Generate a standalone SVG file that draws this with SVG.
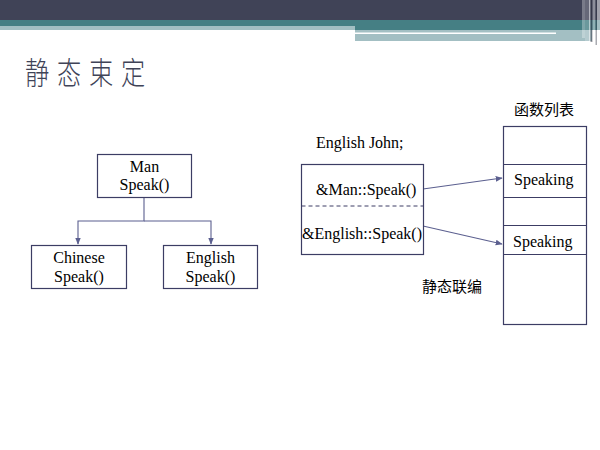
<svg xmlns="http://www.w3.org/2000/svg" width="600" height="450" viewBox="0 0 600 450">
<defs>
<style>
.box{fill:#fff;stroke:#3c3d64;stroke-width:1.2}
.t{font-family:"Liberation Serif","Times New Roman",serif;font-size:16px;fill:#000}
.c{font-family:"Noto Sans CJK SC","Noto Sans",sans-serif;font-size:15px;fill:#000}
.con{fill:none;stroke:#5b5f8f;stroke-width:1.1}
</style>
<marker id="ah" viewBox="0 0 10 10" refX="9" refY="5" markerWidth="7" markerHeight="7" orient="auto" markerUnits="userSpaceOnUse">
<path d="M0,1 L10,5 L0,9 z" fill="#5b5f8f"/>
</marker>
</defs>
<rect width="600" height="450" fill="#fff"/>
<g id="header">
<rect x="0" y="0" width="600" height="20" fill="#404357"/>
<rect x="0" y="20" width="600" height="10" fill="#457f84"/>
<rect x="0" y="26" width="355" height="4" fill="#a3bfc3"/>
<rect x="355" y="30" width="237" height="11" fill="#a3bfc3"/>
<rect x="355" y="32.5" width="201" height="1.5" fill="#fff"/>
<rect x="582" y="0" width="3" height="38" fill="#fff" opacity="0.3"/>
<rect x="585" y="0" width="4" height="42" fill="#fff" opacity="0.2"/>
<rect x="589" y="0" width="1.5" height="42" fill="#fff" opacity="0.6"/>
<rect x="590.5" y="0" width="2" height="42" fill="#2a2c3c" opacity="0.5"/>
<rect x="592.5" y="0" width="3" height="45" fill="#fff" opacity="0.4"/>
<rect x="595.5" y="0" width="1.5" height="45" fill="#2a2c3c" opacity="0.4"/>
<rect x="597" y="0" width="3" height="45" fill="#fff" opacity="0.5"/>
</g>
<text transform="translate(25,84) scale(0.78,1)" x="0" y="0" font-family="Noto Sans CJK SC,sans-serif" font-size="31" font-weight="300" letter-spacing="10" fill="#404357">静态束定</text>
<g id="connectors">
<path class="con" d="M144,197 V221 H78 V244" marker-end="url(#ah)"/>
<path class="con" d="M144,221 H211 V244" marker-end="url(#ah)"/>
<line class="con" x1="423" y1="189" x2="502" y2="178" marker-end="url(#ah)"/>
<line class="con" x1="423" y1="226" x2="502" y2="244" marker-end="url(#ah)"/>
</g>
<g id="man">
<rect class="box" x="97.5" y="154.5" width="94" height="43"/>
<text class="t" x="144.5" y="171.5" text-anchor="middle">Man</text>
<text class="t" x="144.5" y="190" text-anchor="middle">Speak()</text>
</g>
<g id="chinese">
<rect class="box" x="31.5" y="245.5" width="95" height="43"/>
<text class="t" x="79" y="263" text-anchor="middle">Chinese</text>
<text class="t" x="79" y="281.5" text-anchor="middle">Speak()</text>
</g>
<g id="english">
<rect class="box" x="163.5" y="245.5" width="94" height="43"/>
<text class="t" x="210.5" y="263" text-anchor="middle">English</text>
<text class="t" x="210.5" y="281.5" text-anchor="middle">Speak()</text>
</g>
<text class="t" x="316" y="148">English John;</text>
<g id="john">
<rect class="box" x="301.5" y="164.5" width="122" height="90"/>
<line x1="301.5" y1="206" x2="423.5" y2="206" stroke="#3c3d64" stroke-width="1" stroke-dasharray="4,3"/>
<text class="t" x="316" y="195">&amp;Man::Speak()</text>
<text class="t" x="302" y="238.5">&amp;English::Speak()</text>
</g>
<text class="c" x="544" y="115" text-anchor="middle">函数列表</text>
<g id="table">
<rect class="box" x="503.5" y="126.5" width="83" height="198"/>
<line x1="503.5" y1="164.5" x2="586.5" y2="164.5" stroke="#3c3d64" stroke-width="1.2"/>
<line x1="503.5" y1="197.5" x2="586.5" y2="197.5" stroke="#3c3d64" stroke-width="1.2"/>
<line x1="503.5" y1="225.5" x2="586.5" y2="225.5" stroke="#3c3d64" stroke-width="1.2"/>
<line x1="503.5" y1="254.5" x2="586.5" y2="254.5" stroke="#3c3d64" stroke-width="1.2"/>
<text class="t" x="514" y="185">Speaking</text>
<text class="t" x="513" y="246.5">Speaking</text>
</g>
<text class="c" x="422" y="292">静态联编</text>
</svg>
